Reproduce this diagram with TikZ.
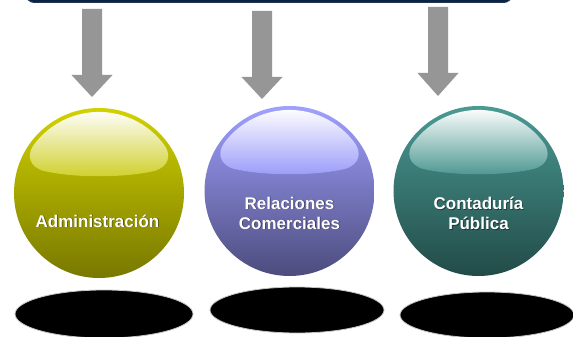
\documentclass[tikz,border=0pt]{standalone}
\usepackage{fontspec}
\setmainfont{Liberation Sans}
\usetikzlibrary{shapes.geometric}
\definecolor{navy}{HTML}{0D2240}
\definecolor{navyedge}{HTML}{1E3556}
\definecolor{arrowgray}{HTML}{969696}
\definecolor{oT}{HTML}{D2D200}\definecolor{oM}{HTML}{ACAC00}\definecolor{oB}{HTML}{787800}\definecolor{oH}{HTML}{CFCF2A}
\definecolor{pT}{HTML}{A0A0FF}\definecolor{pM}{HTML}{7878C4}\definecolor{pB}{HTML}{4C4C7E}\definecolor{pH}{HTML}{9A9AFA}
\definecolor{tT}{HTML}{4A9A94}\definecolor{tM}{HTML}{35736E}\definecolor{tB}{HTML}{224B48}\definecolor{tH}{HTML}{4B9690}
\tikzset{
  ball/.style={circle, minimum size=170pt, inner sep=0pt},
  floor/.style={ellipse, fill=black, draw=gray!45, line width=0.8pt, inner sep=0pt},
  lbl/.style={text=white, font=\fontsize{17}{20}\selectfont\bfseries, align=center, inner sep=0pt},
  lblsh/.style={text=black, opacity=0.45, font=\fontsize{17}{20}\selectfont\bfseries, align=center, inner sep=0pt},
  blk/.style={fill=arrowgray},
}
\newcommand{\blockarr}[5]{% name, cx, ytop, yhead, ytip
  \fill[blk] ({#2-10},{-#3}) -- ({#2+10},{-#3}) -- ({#2+10},{-#4}) -- ({#2+20.5},{-#4})
    -- (#2,{-#5}) -- ({#2-20.5},{-#4}) -- ({#2-10},{-#4}) -- cycle;
  \coordinate (#1) at (#2,{-#5});
}
\newcommand{\glossy}[3]{% cx, cy (y down), color
  \shade[top color=white, bottom color=#3]
    ({#1+66},{-#2+47}) arc[start angle=35.4, end angle=144.6, radius=81]
    .. controls ({#1-72},{-#2+38}) and ({#1-70},{-#2+26}) .. ({#1-55},{-#2+22})
    .. controls ({#1-25},{-#2+15}) and ({#1+25},{-#2+15}) .. ({#1+55},{-#2+22})
    .. controls ({#1+70},{-#2+26}) and ({#1+72},{-#2+38}) .. cycle;
}
\begin{document}
\begin{tikzpicture}[x=1pt,y=1pt]
\useasboundingbox (0,0) rectangle (573,-337);
\clip (0,0) rectangle (573,-337);
\fill[white] (0,0) rectangle (573,-337);
% top bar
\node[draw=navyedge, fill=navy, line width=1pt, rounded corners=9pt, minimum width=487pt, minimum height=40pt, anchor=south west, inner sep=0pt] (bar) at (25,-3) {};
% arrows
\blockarr{a1}{92}{9}{75}{97}
\blockarr{a2}{262}{11}{77}{99}
\blockarr{a3}{438}{7}{73}{96}
% floor shadows
\node[floor, minimum width=178pt, minimum height=48pt] (s1) at (104,-314) {};
\node[floor, minimum width=174pt, minimum height=46pt] (s2) at (297,-310) {};
\node[floor, minimum width=174pt, minimum height=46pt] (s3) at (487,-315) {};
% balls
\node[ball, top color=oT, middle color=oM, bottom color=oB] (c1) at (99,-193) {};
\node[ball, top color=pT, middle color=pM, bottom color=pB] (c2) at (289.5,-191) {};
\node[ball, top color=tT, middle color=tM, bottom color=tB] (c3) at (478.5,-191) {};
\glossy{99}{193}{oH}
\glossy{289.5}{191}{pH}
\glossy{478.5}{191}{tH}
% labels
\node[lblsh, anchor=base] at (98.3,-227.8) {Administración};
\node[lbl, anchor=base] (t1) at (97.5,-227) {Administración};
\node[lblsh] at (290.3,-213.8) {Relaciones\\Comerciales};
\node[lbl] (t2) at (289.5,-213) {Relaciones\\Comerciales};
\node[lblsh] at (479.3,-214.3) {Contaduría\\Pública};
\node[lbl] (t3) at (478.5,-213.5) {Contaduría\\Pública};
\end{tikzpicture}
\end{document}
